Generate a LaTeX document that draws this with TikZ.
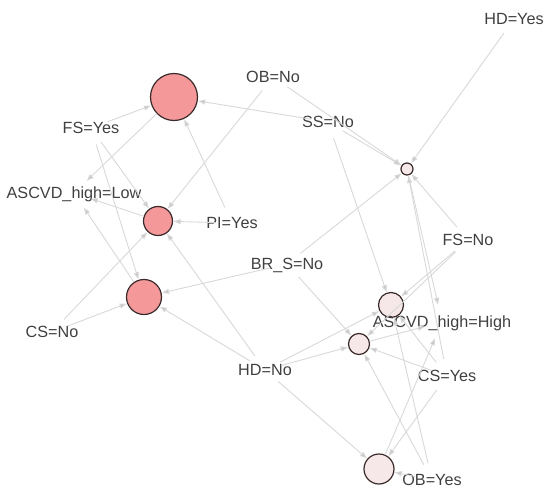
\documentclass[tikz,border=0pt]{standalone}
\usepackage{fontspec}
\setmainfont{Liberation Sans}
\usepackage{tikz}
\usetikzlibrary{arrows.meta}
\definecolor{rulered}{HTML}{F4989A}
\definecolor{rulepale}{HTML}{F6E8E8}
\definecolor{ruleline}{HTML}{3A2A2A}
\definecolor{itemtext}{HTML}{404040}
\definecolor{edgegray}{HTML}{D8D8D8}
\definecolor{tipgray}{HTML}{C8C8C8}

\begin{document}
\begin{tikzpicture}[x=1pt, y=-1pt,
  rule/.style={circle, draw=ruleline, line width=1.2pt, inner sep=0pt},
  item/.style={circle, minimum size=34pt, inner sep=0pt},
  itemlabel/.style={font=\fontsize{16.2}{19}\selectfont, text=itemtext, inner sep=0pt, text height=11.6pt, text depth=0pt},
  edge/.style={edgegray, line width=0.9pt, -{Triangle[length=7pt,width=5pt,fill=tipgray]}, shorten >=0.5pt}]
\useasboundingbox (0,0) rectangle (550,496);
% rules (size = support, colour = lift)
\node[rule, fill=rulered, minimum size=47pt] (r1) at (174,97) {};
\node[rule, fill=rulered, minimum size=29pt] (r2) at (158,221) {};
\node[rule, fill=rulered, minimum size=35pt] (r3) at (144,297) {};
\node[rule, fill=rulepale, minimum size=12pt] (r4) at (407,169) {};
\node[rule, fill=rulepale, minimum size=25pt] (r5) at (391,305) {};
\node[rule, fill=rulepale, minimum size=21pt] (r6) at (359,344) {};
\node[rule, fill=rulepale, minimum size=30pt] (r7) at (379,469) {};
% items
\node[item, label={[itemlabel]center:HD=Yes}] (hdyes) at (514,19) {};
\node[item, label={[itemlabel]center:OB=No}] (obno) at (273,77) {};
\node[item, label={[itemlabel]center:SS=No}] (ssno) at (328,122) {};
\node[item, label={[itemlabel]center:FS=Yes}] (fsyes) at (91,128) {};
\node[item, label={[itemlabel]center:ASCVD\_high=Low}] (ascvdlow) at (74,193) {};
\node[item, label={[itemlabel]center:PI=Yes}] (piyes) at (232,223) {};
\node[item, label={[itemlabel]center:FS=No}] (fsno) at (468,240) {};
\node[item, label={[itemlabel]center:BR\_S=No}] (brsno) at (287,264) {};
\node[item, label={[itemlabel]center:ASCVD\_high=High}] (ascvdhigh) at (442,322) {};
\node[item, label={[itemlabel]center:CS=No}] (csno) at (52,332) {};
\node[item, label={[itemlabel]center:HD=No}] (hdno) at (265,370) {};
\node[item, label={[itemlabel]center:CS=Yes}] (csyes) at (447,376) {};
\node[item, label={[itemlabel]center:OB=Yes}] (obyes) at (432,480) {};
% lhs -> rule, rule -> rhs
\foreach \a/\b in {fsyes/r1, ssno/r1, piyes/r1,
    obno/r2, fsyes/r2, piyes/r2, csno/r2, hdno/r2,
    fsyes/r3, brsno/r3, csno/r3, hdno/r3,
    hdyes/r4, obno/r4, ssno/r4, brsno/r4, fsno/r4, csyes/r4,
    ssno/r5, fsno/r5, hdno/r5, obyes/r5, csyes/r5,
    brsno/r6, hdno/r6, csyes/r6, obyes/r6, fsno/r6,
    hdno/r7, csyes/r7, obyes/r7,
    r1/ascvdlow, r2/ascvdlow, r3/ascvdlow,
    r4/ascvdhigh, r6/ascvdhigh, r7/ascvdhigh}
  \draw[edge] (\a) -- (\b);
\end{tikzpicture}
\end{document}
